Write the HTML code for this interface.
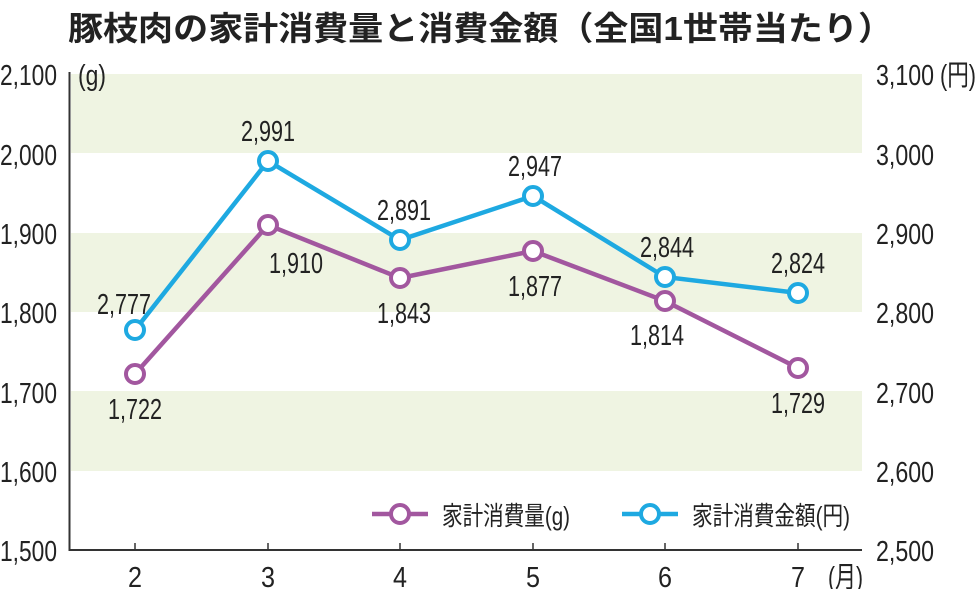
<!DOCTYPE html>
<html><head><meta charset="utf-8"><style>
html,body{margin:0;padding:0;background:#fff;}
svg{display:block;}
text{font-family:"Liberation Sans","Noto Sans CJK JP",sans-serif;fill:#222;}
</style></head><body>
<svg width="980" height="589" viewBox="0 0 980 589" xmlns="http://www.w3.org/2000/svg">
<text x="68" y="40" font-size="33" font-weight="bold" textLength="825" lengthAdjust="spacingAndGlyphs">豚枝肉の家計消費量と消費金額（全国1世帯当たり）</text>
<g fill="#eff4e2">
<rect x="71" y="74" width="791" height="79"/>
<rect x="71" y="233" width="791" height="79"/>
<rect x="71" y="391" width="791" height="80"/>
</g>
<line x1="69.5" y1="72" x2="69.5" y2="551" stroke="#333" stroke-width="2"/>
<line x1="69" y1="550" x2="862" y2="550" stroke="#333" stroke-width="2"/>
<g stroke="#333" stroke-width="1.5">
<line x1="135" y1="543" x2="135" y2="550"/><line x1="268" y1="543" x2="268" y2="550"/>
<line x1="400" y1="543" x2="400" y2="550"/><line x1="533" y1="543" x2="533" y2="550"/>
<line x1="665" y1="543" x2="665" y2="550"/><line x1="798" y1="543" x2="798" y2="550"/>
</g>
<g font-size="29">
<text x="0" y="85" textLength="57" lengthAdjust="spacingAndGlyphs">2,100</text>
<text x="0" y="165" textLength="57" lengthAdjust="spacingAndGlyphs">2,000</text>
<text x="0" y="244" textLength="57" lengthAdjust="spacingAndGlyphs">1,900</text>
<text x="0" y="323" textLength="57" lengthAdjust="spacingAndGlyphs">1,800</text>
<text x="0" y="403" textLength="57" lengthAdjust="spacingAndGlyphs">1,700</text>
<text x="0" y="482" textLength="57" lengthAdjust="spacingAndGlyphs">1,600</text>
<text x="0" y="561" textLength="57" lengthAdjust="spacingAndGlyphs">1,500</text>
<text x="78" y="85" textLength="28" lengthAdjust="spacingAndGlyphs">(g)</text>
<text x="876" y="85" textLength="58" lengthAdjust="spacingAndGlyphs">3,100</text>
<text x="876" y="165" textLength="58" lengthAdjust="spacingAndGlyphs">3,000</text>
<text x="876" y="244" textLength="58" lengthAdjust="spacingAndGlyphs">2,900</text>
<text x="876" y="323" textLength="58" lengthAdjust="spacingAndGlyphs">2,800</text>
<text x="876" y="403" textLength="58" lengthAdjust="spacingAndGlyphs">2,700</text>
<text x="876" y="482" textLength="58" lengthAdjust="spacingAndGlyphs">2,600</text>
<text x="876" y="561" textLength="58" lengthAdjust="spacingAndGlyphs">2,500</text>
<text x="940" y="85" textLength="36" lengthAdjust="spacingAndGlyphs">(円)</text>
<g text-anchor="middle">
<text x="135" y="587" textLength="14" lengthAdjust="spacingAndGlyphs">2</text><text x="268" y="587" textLength="14" lengthAdjust="spacingAndGlyphs">3</text><text x="400" y="587" textLength="14" lengthAdjust="spacingAndGlyphs">4</text>
<text x="533" y="587" textLength="14" lengthAdjust="spacingAndGlyphs">5</text><text x="665" y="587" textLength="14" lengthAdjust="spacingAndGlyphs">6</text><text x="798" y="587" textLength="14" lengthAdjust="spacingAndGlyphs">7</text>
</g>
<text x="828" y="587" textLength="35" lengthAdjust="spacingAndGlyphs">(月)</text>
</g>
<polyline points="135,374 268,225 400,278 533,251 665,301 798,368" fill="none" stroke="#a2579f" stroke-width="4.5"/>
<g fill="#fff" stroke="#a2579f" stroke-width="4"><circle cx="135" cy="374" r="9"/><circle cx="268" cy="225" r="9"/><circle cx="400" cy="278" r="9"/><circle cx="533" cy="251" r="9"/><circle cx="665" cy="301" r="9"/><circle cx="798" cy="368" r="9"/></g>
<polyline points="135,330 268,161 400,240 533,196 665,277 798,293" fill="none" stroke="#1ea9e1" stroke-width="4.5"/>
<g fill="#fff" stroke="#1ea9e1" stroke-width="4"><circle cx="135" cy="330" r="9"/><circle cx="268" cy="161" r="9"/><circle cx="400" cy="240" r="9"/><circle cx="533" cy="196" r="9"/><circle cx="665" cy="277" r="9"/><circle cx="798" cy="293" r="9"/></g>
<g font-size="29" text-anchor="middle">
<text x="135" y="419" textLength="54" lengthAdjust="spacingAndGlyphs">1,722</text>
<text x="296" y="273" textLength="54" lengthAdjust="spacingAndGlyphs">1,910</text>
<text x="404" y="323" textLength="54" lengthAdjust="spacingAndGlyphs">1,843</text>
<text x="535" y="296" textLength="54" lengthAdjust="spacingAndGlyphs">1,877</text>
<text x="657" y="345" textLength="54" lengthAdjust="spacingAndGlyphs">1,814</text>
<text x="798" y="413" textLength="54" lengthAdjust="spacingAndGlyphs">1,729</text>
<text x="124" y="314" textLength="54" lengthAdjust="spacingAndGlyphs">2,777</text>
<text x="268" y="141" textLength="54" lengthAdjust="spacingAndGlyphs">2,991</text>
<text x="404" y="220" textLength="54" lengthAdjust="spacingAndGlyphs">2,891</text>
<text x="535" y="176" textLength="54" lengthAdjust="spacingAndGlyphs">2,947</text>
<text x="667" y="257" textLength="54" lengthAdjust="spacingAndGlyphs">2,844</text>
<text x="798" y="273" textLength="54" lengthAdjust="spacingAndGlyphs">2,824</text>
</g>
<line x1="372" y1="514" x2="428" y2="514" stroke="#a2579f" stroke-width="4.5"/>
<circle cx="400" cy="514" r="9" fill="#fff" stroke="#a2579f" stroke-width="4"/>
<text x="442" y="525" font-size="26" textLength="128" lengthAdjust="spacingAndGlyphs">家計消費量(g)</text>
<line x1="622" y1="514" x2="678" y2="514" stroke="#1ea9e1" stroke-width="4.5"/>
<circle cx="650" cy="514" r="9" fill="#fff" stroke="#1ea9e1" stroke-width="4"/>
<text x="692" y="525" font-size="26" textLength="158" lengthAdjust="spacingAndGlyphs">家計消費金額(円)</text>
</svg>
</body></html>
